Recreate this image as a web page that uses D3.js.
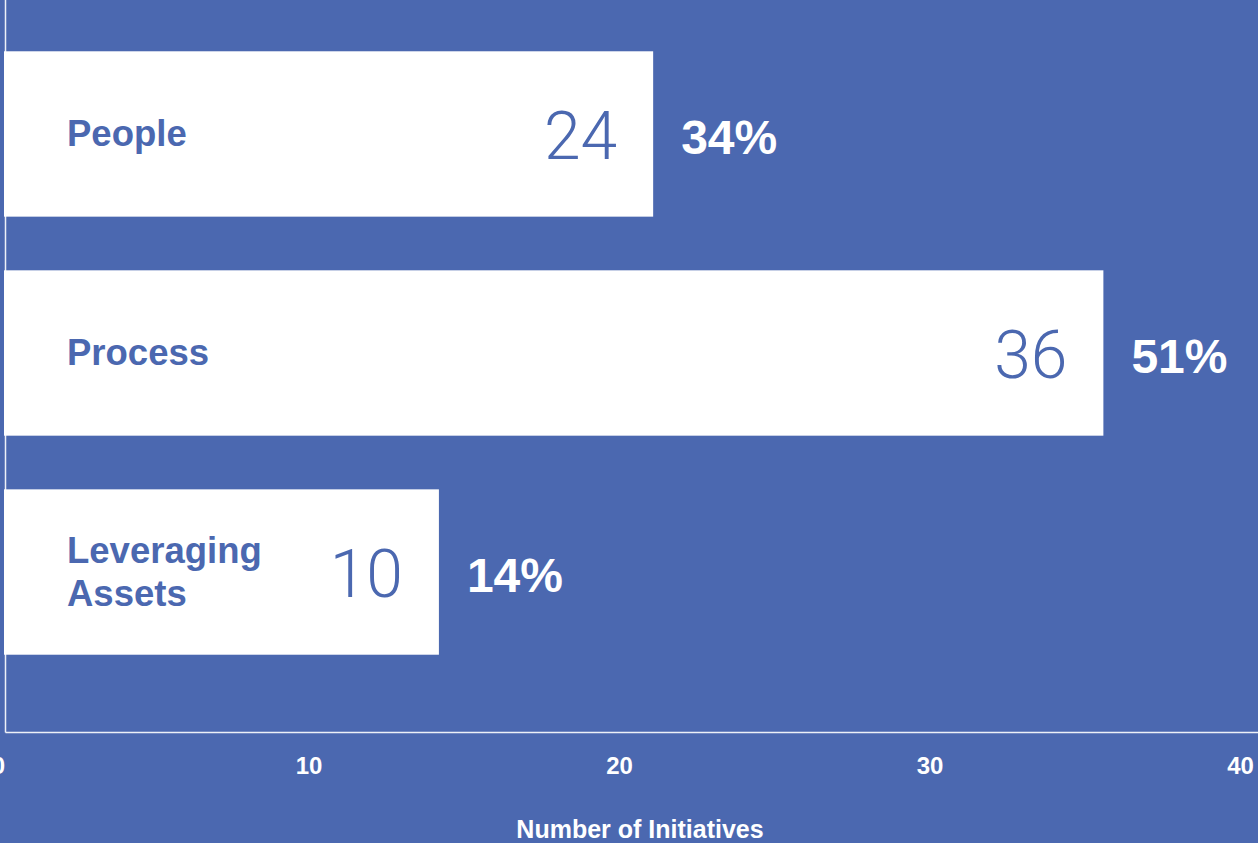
<!DOCTYPE html>
<html lang="en">
<head>
<meta charset="utf-8">
<title>Number of Initiatives</title>
<style>
  body {
    margin: 0;
    padding: 0;
    overflow: hidden;
    background: #4b68b0;
  }
  svg { display: block; }
  .cat {
    font-family: "Liberation Sans", Arial, sans-serif;
    font-weight: 700;
    font-size: 36.5px;
    fill: #4b68b0;
  }
  .count {
    font-family: Roboto, "Open Sans", sans-serif;
    font-weight: 300;
    font-size: 66px;
    fill: #4b68b0;
  }
  .share {
    font-family: "Liberation Sans", Arial, sans-serif;
    font-weight: 700;
    font-size: 48px;
    fill: #fff;
  }
  .xaxis text {
    font-family: "Liberation Sans", Arial, sans-serif;
    font-weight: 700;
    font-size: 24px;
    fill: #fff;
  }
  .title {
    font-family: "Liberation Sans", Arial, sans-serif;
    font-weight: 700;
    font-size: 25px;
    fill: #fff;
  }
</style>
<script src="https://cdn.jsdelivr.net/npm/d3@7"></script>
</head>
<body>
<script>
// values
var categories = ["People", "Process", "Leveraging Assets"];
var barLengths = [21.1, 35.6, 14.2];   // bar end on the axis scale
var counts = [24, 36, 10];
var shares = ["34%", "51%", "14%"];
var xTicks = [0, 10, 20, 30, 40];

var W = 1258, H = 843;
var axisX = 5.5, axisY = 732.5;

var svg = d3.select("body").append("svg")
    .attr("width", W)
    .attr("height", H);

var x = d3.scaleLinear().domain([0, 40]).range([-2, 1240]);
var y = d3.scaleBand().domain(categories)
    .range([25, 681])
    .paddingInner(0.245)
    .paddingOuter(0.12);

var rows = categories.map(function (c, i) {
  return { cat: c, len: barLengths[i], count: counts[i], share: shares[i] };
});

// bars
svg.selectAll("rect.bar").data(rows).enter().append("rect")
    .attr("class", "bar")
    .attr("x", 4)
    .attr("y", function (d) { return y(d.cat); })
    .attr("width", function (d) { return x(d.len) - 4; })
    .attr("height", y.bandwidth())
    .attr("fill", "#fff");

// category labels (wrap two words for the long one)
svg.selectAll("text.cat").data(rows).enter().append("text")
    .attr("class", "cat")
    .attr("x", 67)
    .attr("y", function (d) { return y(d.cat) + y.bandwidth() / 2; })
    .each(function (d) {
      var words = d.cat.split(" ");
      var t = d3.select(this);
      var lines = words.length > 1 ? words : [d.cat];
      var lh = 43;
      var start = 12 - (lines.length - 1) * lh / 2;
      lines.forEach(function (w, j) {
        t.append("tspan")
          .attr("x", 67)
          .attr("dy", j === 0 ? start : lh)
          .text(w);
      });
    });

// counts inside bars
svg.selectAll("text.count").data(rows).enter().append("text")
    .attr("class", "count")
    .attr("text-anchor", "end")
    .attr("x", function (d) { return x(d.len) - 36; })
    .attr("y", function (d) { return y(d.cat) + y.bandwidth() / 2 + 25; })
    .text(function (d) { return d.count; });

// shares right of bars
svg.selectAll("text.share").data(rows).enter().append("text")
    .attr("class", "share")
    .attr("x", function (d) { return x(d.len) + 28; })
    .attr("y", function (d) { return y(d.cat) + y.bandwidth() / 2 + 20; })
    .text(function (d) { return d.share; });

// axis lines
svg.append("line")
    .attr("x1", axisX).attr("x2", axisX)
    .attr("y1", 0).attr("y2", axisY)
    .attr("stroke", "#fff").attr("stroke-opacity", 0.9).attr("stroke-width", 1.5);
svg.append("line")
    .attr("x1", axisX).attr("x2", W)
    .attr("y1", axisY).attr("y2", axisY)
    .attr("stroke", "#fff").attr("stroke-opacity", 0.9).attr("stroke-width", 1.5);

// x axis tick labels
var xa = svg.append("g")
    .attr("class", "xaxis")
    .attr("transform", "translate(0," + axisY + ")")
    .call(d3.axisBottom(x).tickValues(xTicks).tickSize(0).tickPadding(24));
xa.select(".domain").remove();
xa.selectAll("text").attr("dy", "0.71em");

svg.append("text")
    .attr("class", "title")
    .attr("text-anchor", "middle")
    .attr("x", 640)
    .attr("y", 838)
    .text("Number of Initiatives");
</script>
</body>
</html>
